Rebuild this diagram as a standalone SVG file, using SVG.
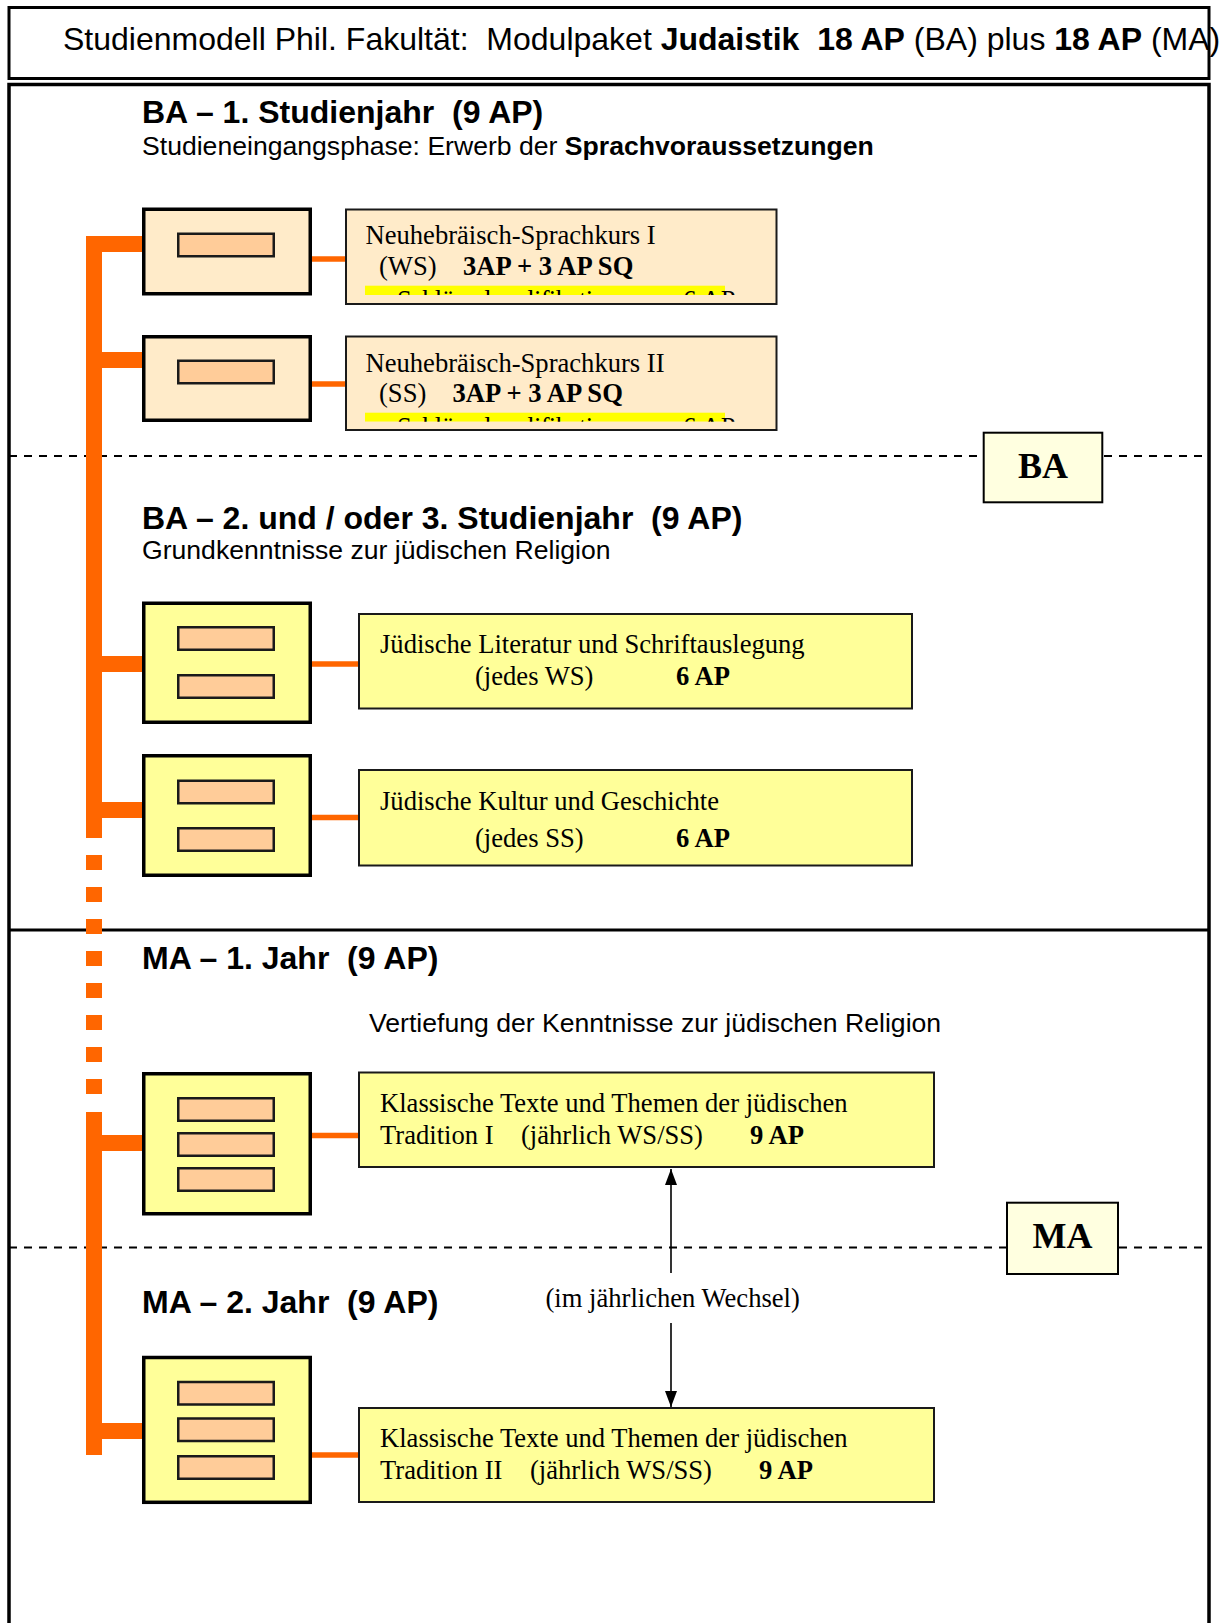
<svg xmlns="http://www.w3.org/2000/svg" width="1231" height="1623" viewBox="0 0 1231 1623" xml:space="preserve">
<defs>
<style>
text,tspan{white-space:pre;}
.sans{font-family:"Liberation Sans",Arial,sans-serif;fill:#000;}
.serif{font-family:"Liberation Serif","Times New Roman",serif;fill:#000;}
.b{font-weight:bold;}
.h{font-size:32px;font-weight:bold;}
.sub{font-size:26.6px;}
.t{font-size:26.6px;}
.icon{stroke:#000;stroke-width:3.5;}
.peach{fill:#FFEBC9;}
.yel{fill:#FFFF99;}
.bar{fill:#FFCC99;stroke:#1a1a1a;stroke-width:2.5;}
.tb{stroke:#1a1a1a;stroke-width:2;}
.frame{fill:none;stroke:#000;}
.dash{stroke:#000;stroke-width:2;stroke-dasharray:8 7;fill:none;}
.bus{stroke:#FF6600;stroke-width:16;fill:none;}
.link{stroke:#FF6600;stroke-width:5.5;fill:none;}
.tag{fill:#FFFFE0;stroke:#000;stroke-width:2;}
.hl{fill:#FFFF00;}
.arr{stroke:#000;stroke-width:1.6;fill:none;}
</style>
<marker id="ah" markerUnits="userSpaceOnUse" markerWidth="16" markerHeight="12" viewBox="0 0 16 12" refX="16" refY="6" orient="auto"><path d="M0,0 L16,6 L0,12 z" fill="#000"/></marker>
<clipPath id="c1"><rect x="346" y="209" width="430" height="86"/></clipPath>
<clipPath id="c2"><rect x="346" y="336" width="430" height="85.7"/></clipPath>
</defs>
<rect x="0" y="0" width="1231" height="1623" fill="#fff"/>

<g id="title">
<text class="sans" x="63" y="50" font-size="32"><tspan>Studienmodell Phil. Fakultät:  Modulpaket </tspan><tspan font-weight="bold">Judaistik  18 AP</tspan><tspan> (BA) plus </tspan><tspan font-weight="bold">18 AP</tspan><tspan> (MA)</tspan></text>
<rect class="frame" x="9" y="7.5" width="1200" height="71" stroke-width="3"/>
</g>

<g id="frame">
<path class="frame" d="M9,1630 V84.5 H1209 V1630" stroke-width="3.5"/>
<line x1="9" y1="930" x2="1209" y2="930" stroke="#000" stroke-width="3"/>
<line class="dash" x1="9" y1="456" x2="1209" y2="456"/>
<line class="dash" x1="9" y1="1247.5" x2="1209" y2="1247.5"/>
</g>

<g id="headers">
<text class="sans h" x="142" y="123">BA – 1. Studienjahr  (9 AP)</text>
<text class="sans sub" x="142" y="154.5">Studieneingangsphase: Erwerb der <tspan font-weight="bold">Sprachvoraussetzungen</tspan></text>
<text class="sans h" x="142" y="529">BA – 2. und / oder 3. Studienjahr  (9 AP)</text>
<text class="sans sub" x="142" y="559">Grundkenntnisse zur jüdischen Religion</text>
<text class="sans h" x="142" y="969">MA – 1. Jahr  (9 AP)</text>
<text class="sans sub" x="369" y="1032">Vertiefung der Kenntnisse zur jüdischen Religion</text>
<text class="sans h" x="142" y="1313">MA – 2. Jahr  (9 AP)</text>
</g>

<g id="tag-ba">
<rect class="tag" x="983.7" y="432.7" width="118.6" height="69.6"/>
<text class="serif b" x="1043" y="478" font-size="36" text-anchor="middle">BA</text>
</g>
<g id="tag-ma">
<rect class="tag" x="1007" y="1202.7" width="111" height="71.3"/>
<text class="serif b" x="1062.5" y="1248" font-size="36" text-anchor="middle">MA</text>
</g>

<g id="connectors">
<line class="bus" x1="94" y1="236" x2="94" y2="838"/>
<line class="bus" x1="94" y1="855" x2="94" y2="1095" stroke-dasharray="15 17"/>
<line class="bus" x1="94" y1="1112" x2="94" y2="1455"/>
<line class="bus" x1="86" y1="244" x2="142" y2="244"/>
<line class="bus" x1="86" y1="360" x2="142" y2="360"/>
<line class="bus" x1="86" y1="664" x2="142" y2="664"/>
<line class="bus" x1="86" y1="810" x2="142" y2="810"/>
<line class="bus" x1="86" y1="1143" x2="142" y2="1143"/>
<line class="bus" x1="86" y1="1431" x2="142" y2="1431"/>
<line class="link" x1="312" y1="259" x2="345" y2="259"/>
<line class="link" x1="312" y1="384" x2="345" y2="384"/>
<line class="link" x1="312" y1="664" x2="358" y2="664"/>
<line class="link" x1="312" y1="817.5" x2="358" y2="817.5"/>
<line class="link" x1="312" y1="1135.5" x2="358" y2="1135.5"/>
<line class="link" x1="312" y1="1455" x2="358" y2="1455"/>
<line class="arr" x1="671" y1="1273" x2="671" y2="1169" marker-end="url(#ah)"/>
<line class="arr" x1="671" y1="1323" x2="671" y2="1407" marker-end="url(#ah)"/>
<text class="serif t" x="545.5" y="1307">(im jährlichen Wechsel)</text>
</g>

<g id="icon1">
<rect class="icon peach" x="143.75" y="209.25" width="166.5" height="84.5"/>
<rect class="bar" x="178.25" y="233.75" width="95.5" height="22.5"/>
</g>
<g id="icon2">
<rect class="icon peach" x="143.75" y="336.75" width="166.5" height="83.5"/>
<rect class="bar" x="178.25" y="360.75" width="95.5" height="22.5"/>
</g>
<g id="icon3">
<rect class="icon yel" x="143.75" y="603.25" width="166.5" height="119"/>
<rect class="bar" x="178.25" y="627.25" width="95.5" height="22.5"/>
<rect class="bar" x="178.25" y="675.25" width="95.5" height="22.5"/>
</g>
<g id="icon4">
<rect class="icon yel" x="143.75" y="755.75" width="166.5" height="119.5"/>
<rect class="bar" x="178.25" y="780.75" width="95.5" height="22.5"/>
<rect class="bar" x="178.25" y="828.25" width="95.5" height="22.5"/>
</g>
<g id="icon5">
<rect class="icon yel" x="143.75" y="1073.75" width="166.5" height="140"/>
<rect class="bar" x="178.25" y="1098.25" width="95.5" height="22.5"/>
<rect class="bar" x="178.25" y="1133.25" width="95.5" height="22.5"/>
<rect class="bar" x="178.25" y="1168.25" width="95.5" height="22.5"/>
</g>
<g id="icon6">
<rect class="icon yel" x="143.75" y="1357.5" width="166.5" height="144.8"/>
<rect class="bar" x="178.25" y="1382" width="95.5" height="22.5"/>
<rect class="bar" x="178.25" y="1418.5" width="95.5" height="22.5"/>
<rect class="bar" x="178.25" y="1456.25" width="95.5" height="22.5"/>
</g>

<g id="module1">
<rect class="tb peach" x="346" y="209.5" width="430.5" height="94.5"/>
<text class="serif t" x="365.5" y="244">Neuhebräisch-Sprachkurs I</text>
<text class="serif t" y="275"><tspan x="379">(WS)</tspan><tspan x="463" font-weight="bold">3AP + 3 AP SQ</tspan></text>
<g clip-path="url(#c1)">
<rect class="hl" x="365" y="285.7" width="360" height="9.3"/>
<text class="serif t" y="309.2"><tspan x="397" textLength="245" lengthAdjust="spacing">Schlüsselqualifikationen</tspan><tspan x="683">6 AP</tspan></text>
</g>
</g>
<g id="module2">
<rect class="tb peach" x="346" y="336.5" width="430.5" height="93.5"/>
<text class="serif t" x="365.5" y="372">Neuhebräisch-Sprachkurs II</text>
<text class="serif t" y="402"><tspan x="379">(SS)</tspan><tspan x="452.5" font-weight="bold">3AP + 3 AP SQ</tspan></text>
<g clip-path="url(#c2)">
<rect class="hl" x="365" y="412.7" width="360" height="9"/>
<text class="serif t" y="435.8"><tspan x="397" textLength="245" lengthAdjust="spacing">Schlüsselqualifikationen</tspan><tspan x="683">6 AP</tspan></text>
</g>
</g>
<g id="module3">
<rect class="tb yel" x="359" y="614" width="553" height="94.5"/>
<text class="serif t" x="380" y="653">Jüdische Literatur und Schriftauslegung</text>
<text class="serif t" y="685"><tspan x="475">(jedes WS)</tspan><tspan x="676" font-weight="bold">6 AP</tspan></text>
</g>
<g id="module4">
<rect class="tb yel" x="359" y="770" width="553" height="95.5"/>
<text class="serif t" x="380" y="810">Jüdische Kultur und Geschichte</text>
<text class="serif t" y="846.5"><tspan x="475">(jedes SS)</tspan><tspan x="676" font-weight="bold">6 AP</tspan></text>
</g>
<g id="module5">
<rect class="tb yel" x="359" y="1072.5" width="575" height="94.5"/>
<text class="serif t" x="380" y="1112">Klassische Texte und Themen der jüdischen</text>
<text class="serif t" y="1143.5"><tspan x="380">Tradition I</tspan><tspan x="521">(jährlich WS/SS)</tspan><tspan x="750" font-weight="bold">9 AP</tspan></text>
</g>
<g id="module6">
<rect class="tb yel" x="359" y="1408" width="575" height="94"/>
<text class="serif t" x="380" y="1447">Klassische Texte und Themen der jüdischen</text>
<text class="serif t" y="1479"><tspan x="380">Tradition II</tspan><tspan x="530">(jährlich WS/SS)</tspan><tspan x="759" font-weight="bold">9 AP</tspan></text>
</g>
</svg>
